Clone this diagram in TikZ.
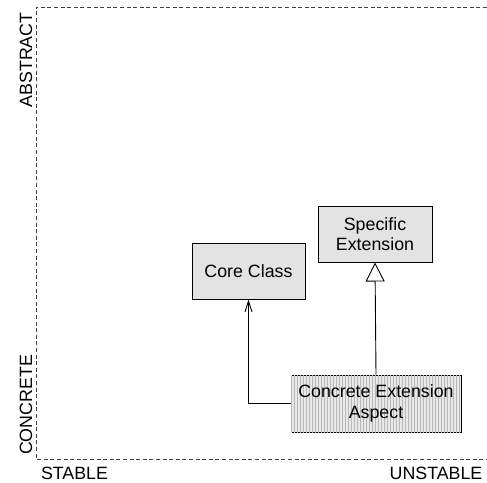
\documentclass[tikz,border=0pt]{standalone}
\usepackage{fontspec}
\setmainfont{Liberation Sans}
\usetikzlibrary{arrows.meta,patterns}
\begin{document}
\begin{tikzpicture}[x=1pt,y=-1pt,
  axisline/.style={draw=black!75,line width=0.9pt,dash pattern=on 4pt off 2.6pt},
  axislabel/.style={font=\fontsize{17.8}{20}\selectfont,inner sep=0pt},
  classbox/.style={draw=black,line width=1pt,fill=black!11,
    font=\fontsize{17.8}{20.5}\selectfont,align=center,inner sep=0pt},
  aspectbox/.style={classbox,fill=black!9,
    postaction={pattern=vertical lines,pattern color=black!28}},
  uses/.style={draw=black,line width=0.9pt,-{Straight Barb[length=11pt,width=7pt,line width=0.9pt]}},
  extends/.style={draw=black,line width=0.9pt,-{Triangle[open,length=19pt,width=19pt,line width=0.9pt,fill=white]}}
]
\useasboundingbox (0,0) rectangle (487,482);

% axes of the stability/abstraction plane
\draw[axisline] (487,7) -- (36,7) -- (36,459) -- (487,459);
\node[axislabel,rotate=90] (abstract) at (26,60) {ABSTRACT};
\node[axislabel,rotate=90] (concrete) at (26,405) {CONCRETE};
\node[axislabel] (stable) at (74.5,473) {STABLE};
\node[axislabel] (unstable) at (436,473) {UNSTABLE};

% classes
\node[classbox,minimum width=113pt,minimum height=56pt] (core) at (248.5,271) {Core Class};
\node[classbox,minimum width=114pt,minimum height=56pt] (spec) at (375,234) {Specific\\Extension};
\node[aspectbox,minimum width=170pt,minimum height=57pt] (aspect) at (376,403.5) {Concrete Extension\\Aspect};

% relations
\draw[uses] (aspect.west) -| (core.south);
\draw[extends] (aspect.north) -- (spec.south);
\end{tikzpicture}
\end{document}
